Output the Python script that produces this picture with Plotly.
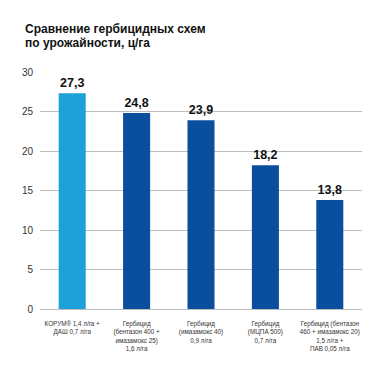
import plotly.graph_objects as go

categories = [
    "КОРУМ® 1,4 л/га +<br>ДАШ 0,7 л/га",
    "Гербицид<br>(бентазон 400 +<br>имазамокс 25)<br>1,6 л/га",
    "Гербицид<br>(имазамокс 40)<br>0,9 л/га",
    "Гербицид<br>(МЦПА 500)<br>0,7 л/га",
    "Гербицид (бентазон<br>460 + имазамокс 20)<br>1,5 л/га +<br>ПАВ 0,05 л/га",
]
values = [27.3, 24.8, 23.9, 18.2, 13.8]
colors = ["#1ea1d9", "#0a4f9e", "#0a4f9e", "#0a4f9e", "#0a4f9e"]
y_ticks = [0, 5, 10, 15, 20, 25, 30]
title_lines = ["Сравнение гербицидных схем", "по урожайности, ц/га"]

font = "Liberation Sans, Arial, Helvetica, sans-serif"

fig = go.Figure(go.Bar(
    x=categories, y=values,
    marker=dict(color=colors, line=dict(width=0)),
    width=0.42,
    texttemplate="<b>%{y:.1f}</b>",
    textposition="outside",
    textfont=dict(size=12.5, color="#111", family=font),
    cliponaxis=False,
))

fig.update_layout(
    width=384, height=384,
    margin=dict(l=32, r=30, t=64, b=83, autoexpand=False),
    paper_bgcolor="white", plot_bgcolor="white",
    separators=", ",
    showlegend=False,
    font=dict(family=font),
)
for line, yp in zip(title_lines, [1.1835, 1.124]):
    fig.add_annotation(
        text="<b>" + line + "</b>", xref="paper", yref="paper",
        x=-0.0528, y=yp, xanchor="left", yanchor="middle", showarrow=False,
        font=dict(size=12, color="#111", family=font),
    )
fig.update_yaxes(
    range=[0, 30], tickvals=y_ticks, showgrid=True, gridcolor="#bdbdbd", gridwidth=1,
    zeroline=True, zerolinecolor="#bdbdbd", zerolinewidth=1,
    tickfont=dict(size=10, color="#333"), ticks="", ticklabelstandoff=6,
    showline=False, automargin=False,
)
fig.update_xaxes(
    tickfont=dict(size=6.3, color="#333"), ticks="", ticklabelstandoff=10,
    showline=False, tickangle=0, automargin=False,
)

fig.write_html("out.html")
